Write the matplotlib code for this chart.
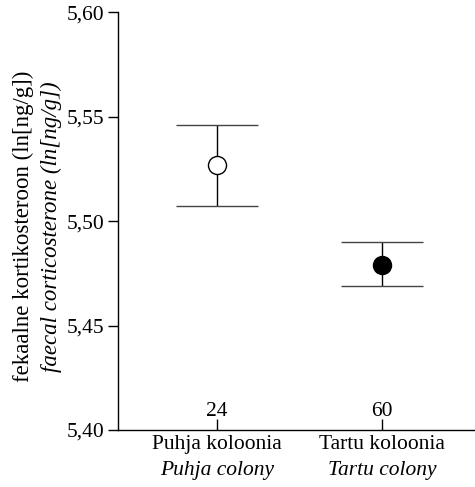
import matplotlib
matplotlib.use("Agg")
import matplotlib.pyplot as plt
from matplotlib.ticker import FuncFormatter

plt.rcParams['font.family'] = ['Liberation Serif', 'DejaVu Serif']

# data
colonies = ["Puhja koloonia", "Tartu koloonia"]
colonies_en = ["Puhja colony", "Tartu colony"]
means = [5.527, 5.479]
lower = [5.507, 5.469]
upper = [5.546, 5.490]
counts = [24, 60]
yticks = [5.40, 5.45, 5.50, 5.55, 5.60]

fig = plt.figure(figsize=(4.75, 4.87), dpi=100)
ax = fig.add_axes([0.2484, 0.117, 0.7516, 0.858])

xs = list(range(len(colonies)))
err = [[m - lo for m, lo in zip(means, lower)], [hi - m for m, hi in zip(means, upper)]]
ax.errorbar(xs, means, yerr=err, fmt='none', ecolor='black', elinewidth=1.0,
            capsize=0, zorder=2)
# wide caps
for x, lo, hi in zip(xs, lower, upper):
    ax.hlines([lo, hi], x - 0.25, x + 0.25, color='#444444', lw=1.0, zorder=2)
ax.plot(xs[0], means[0], 'o', ms=13, mfc='white', mec='black', mew=1.0, zorder=3)
ax.plot(xs[1], means[1], 'o', ms=13, mfc='black', mec='black', mew=1.0, zorder=3)

for x, n in zip(xs, counts):
    ax.text(x, 5.4045, str(n), ha='center', va='bottom', fontsize=15.5)

ax.set_xlim(-0.6, 1.564)
ax.set_ylim(5.40, 5.60)
ax.set_yticks(yticks)
ax.yaxis.set_major_formatter(FuncFormatter(lambda v, p: f"{v:.2f}".replace('.', ',')))
ax.tick_params(axis='y', direction='out', length=7, width=1, labelsize=15.5, pad=2.5)
ax.set_xticks(xs)
ax.set_xticklabels([''] * len(xs))
ax.tick_params(axis='x', direction='in', length=8, width=1)
for x, a, b in zip(xs, colonies, colonies_en):
    ax.text(x, -0.012, a, transform=ax.get_xaxis_transform(), ha='center', va='top', fontsize=15.5)
    ax.text(x, -0.075, b, transform=ax.get_xaxis_transform(), ha='center', va='top',
            fontsize=15.5, style='italic')

for s in ['top', 'right']:
    ax.spines[s].set_visible(False)
ax.spines['left'].set_linewidth(1)
ax.spines['bottom'].set_linewidth(1)

fig.text(0.05, 0.535, "fekaalne kortikosteroon (ln[ng/g])", rotation=90,
         ha='center', va='center', fontsize=16.5)
fig.text(0.108, 0.535, "faecal corticosterone (ln[ng/g])", rotation=90,
         ha='center', va='center', fontsize=16.5, style='italic')

fig.savefig("out.png", dpi=100)
